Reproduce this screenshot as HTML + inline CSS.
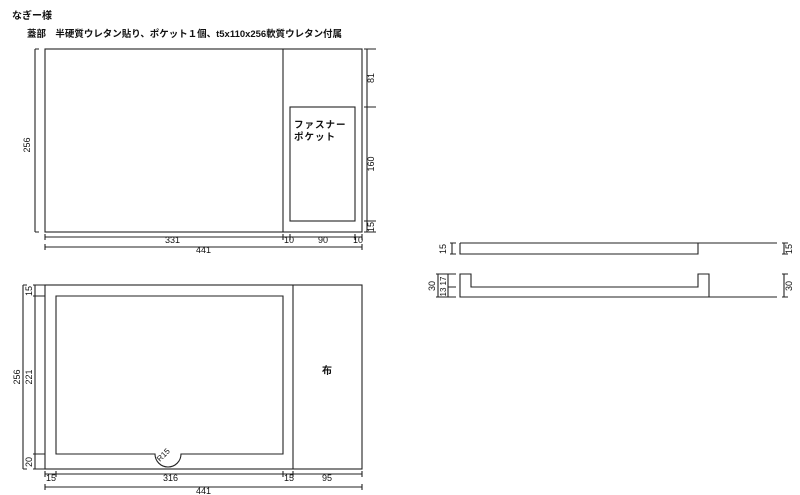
<!DOCTYPE html>
<html><head><meta charset="utf-8"><style>body{margin:0;background:#fff}svg{display:block}</style></head><body>
<svg width="800" height="495" viewBox="0 0 800 495" xmlns="http://www.w3.org/2000/svg" font-family="'Liberation Sans','Noto Sans CJK JP',sans-serif" fill="none" stroke="#222" stroke-width="1.1">
<g fill="#111" stroke="none" font-size="10" font-weight="bold">
<text x="12" y="19">なぎー様</text>
<text x="27" y="37" textLength="315" lengthAdjust="spacingAndGlyphs" font-size="9.5">蓋部　半硬質ウレタン貼り、ポケット１個、t5x110x256軟質ウレタン付属</text>
<text x="294" y="128" font-size="9.5" letter-spacing="1">ファスナー</text>
<text x="294" y="140" font-size="9.5" letter-spacing="1">ポケット</text>
<text x="322" y="374">布</text>
</g>
<!-- top drawing -->
<rect x="45" y="49" width="317" height="183"/>
<line x1="283" y1="49" x2="283" y2="232"/>
<rect x="290" y="107" width="65" height="114"/>
<path d="M35 49V232 M35 49h4 M35 232h4 M367 49V232 M364 49h12 M364 107h12 M364 221h12 M364 232h12"/>
<path d="M45 237H362 M45 234v6 M283 234v6 M290 234v6 M355 234v6 M362 234v6 M45 247H362 M45 244v6 M362 244v6"/>
<g fill="#111" stroke="none" font-size="9" font-family="'Liberation Sans Narrow','Liberation Sans',sans-serif">
<text x="30" y="145" transform="rotate(-90 30 145)" text-anchor="middle">256</text>
<text x="374" y="78" transform="rotate(-90 374 78)" text-anchor="middle">81</text>
<text x="374" y="164" transform="rotate(-90 374 164)" text-anchor="middle">160</text>
<text x="374" y="227" transform="rotate(-90 374 227)" text-anchor="middle">15</text>
<text x="165" y="243">331</text><text x="284" y="243">10</text><text x="318" y="243">90</text><text x="353" y="243">10</text>
<text x="196" y="253">441</text>
</g>
<!-- bottom drawing -->
<rect x="45" y="285" width="317" height="184"/>
<line x1="293" y1="285" x2="293" y2="469"/>
<path d="M56 296H283V454H181 A13 13 0 0 1 155 454H56Z"/>
<path d="M23 285V469 M23 285h4 M23 469h4 M35 285V469 M33 285h12 M33 296h12 M33 454h12 M33 469h12"/>
<path d="M45 474H362 M45 471v6 M56 471v6 M283 471v6 M293 471v6 M362 471v6 M45 487H362 M45 484v6 M362 484v6"/>
<g fill="#111" stroke="none" font-size="9" font-family="'Liberation Sans Narrow','Liberation Sans',sans-serif">
<text x="20" y="377" transform="rotate(-90 20 377)" text-anchor="middle">256</text>
<text x="32" y="377" transform="rotate(-90 32 377)" text-anchor="middle">221</text>
<text x="32" y="291" transform="rotate(-90 32 291)" text-anchor="middle">15</text>
<text x="32" y="462" transform="rotate(-90 32 462)" text-anchor="middle">20</text>
<text x="46" y="481">15</text><text x="163" y="481">316</text><text x="284" y="481">15</text><text x="322" y="481">95</text>
<text x="196" y="494">441</text>
<text x="160" y="462" transform="rotate(-45 160 462)" font-size="8">R15</text>
</g>
<!-- right side views -->
<path d="M460 243H777 M460 243V254H698V243"/>
<path d="M450 243h6 M450 254h6 M452 243v11 M782 243h6 M782 254h6 M784 243v11"/>
<path d="M460 274H471V287H698V274H709V297H460Z M709 297H777"/>
<path d="M436 274h20 M436 297h20 M438 274v23 M448 274v23 M448 287h8 M782 274h6 M782 297h6 M784 274v23"/>
<g fill="#111" stroke="none" font-size="9" font-family="'Liberation Sans Narrow','Liberation Sans',sans-serif">
<text x="446" y="249" transform="rotate(-90 446 249)" text-anchor="middle">15</text>
<text x="792" y="249" transform="rotate(-90 792 249)" text-anchor="middle">15</text>
<text x="435" y="286" transform="rotate(-90 435 286)" text-anchor="middle">30</text>
<text x="446" y="281" transform="rotate(-90 446 281)" text-anchor="middle" font-size="8">17</text>
<text x="446" y="292" transform="rotate(-90 446 292)" text-anchor="middle" font-size="8">13</text>
<text x="792" y="286" transform="rotate(-90 792 286)" text-anchor="middle">30</text>
</g>
</svg>
</body></html>
